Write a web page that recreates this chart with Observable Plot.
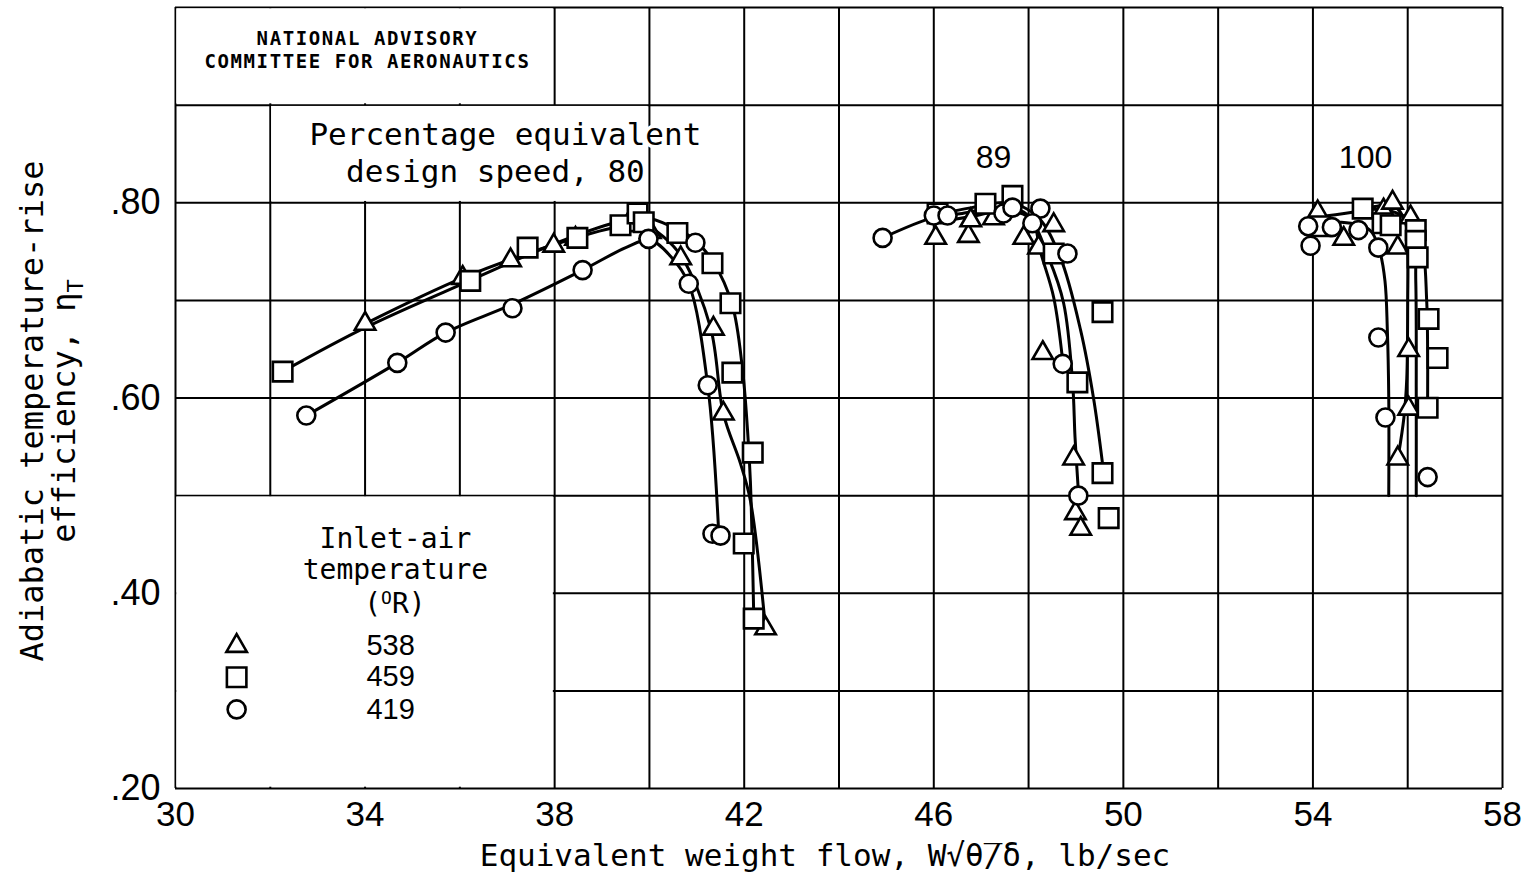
<!DOCTYPE html>
<html><head><meta charset="utf-8">
<script src="https://cdn.jsdelivr.net/npm/d3@7"></script>
<script src="https://cdn.jsdelivr.net/npm/@observablehq/plot@0.6"></script>
<style>
html,body{margin:0;padding:0;background:#fff;}
#chart{position:absolute;left:0;top:0;}
</style></head><body><div id="chart"></div>
<script>
// ---------- grid & ticks ----------
const xGrid = [30,32,34,36,38,40,42,44,46,48,50,52,54,56,58];
const yGrid = [0.2,0.3,0.4,0.5,0.6,0.7,0.8,0.9,1.0];
const xTicks = [30,34,38,42,46,50,54,58];
const yTicks = [0.2,0.4,0.6,0.8];
// areas of the grid left blank (boxes for lettering)
const blankBoxes = [
  {x1:30,x2:38,y1:0.9,y2:1.0},
  {x1:32,x2:40,y1:0.8,y2:0.9},
  {x1:30,x2:38,y1:0.2,y2:0.5}
];

// ---------- data points: [W, eta] ----------
// 80 percent speed
const p80_538 = [[34.0,0.676],[36.06,0.723],[37.07,0.741],[37.98,0.756],[38.44,0.763],[39.54,0.777],[40.02,0.770],[40.66,0.743],[41.35,0.671],[41.56,0.584],[42.45,0.364]];
const p80_459 = [[32.26,0.627],[36.22,0.720],[37.43,0.754],[38.48,0.764],[39.39,0.777],[39.75,0.789],[39.88,0.780],[40.59,0.769],[41.33,0.738],[41.71,0.697],[41.75,0.626],[42.18,0.544],[41.99,0.451],[42.2,0.374]];
const p80_419 = [[32.76,0.582],[34.68,0.636],[35.7,0.667],[37.11,0.692],[38.59,0.731],[39.98,0.763],[40.97,0.759],[40.83,0.717],[41.23,0.613],[41.33,0.461],[41.5,0.459]];
// 89 percent speed
const p89_538 = [[46.04,0.764],[46.73,0.766],[46.78,0.782],[47.26,0.784],[47.9,0.764],[48.53,0.777],[48.21,0.754],[48.3,0.646],[48.95,0.538],[48.99,0.482],[49.1,0.466]];
const p89_459 = [[46.08,0.789],[47.09,0.799],[47.66,0.807],[48.53,0.748],[49.56,0.688],[49.03,0.616],[49.56,0.523],[49.69,0.477]];
const p89_419 = [[44.92,0.764],[46.0,0.787],[46.29,0.787],[47.47,0.789],[47.66,0.795],[48.25,0.794],[48.08,0.779],[48.82,0.748],[48.72,0.635],[49.05,0.500]];
// 100 percent speed
const p100_538 = [[54.1,0.790],[54.65,0.763],[55.49,0.792],[55.68,0.800],[56.06,0.785],[55.79,0.754],[56.02,0.649],[56.02,0.589],[55.79,0.538]];
const p100_459 = [[54.15,0.776],[55.05,0.794],[55.47,0.779],[55.64,0.777],[56.17,0.772],[56.17,0.761],[56.21,0.744],[56.44,0.681],[56.63,0.641],[56.42,0.590]];
const p100_419 = [[53.9,0.776],[54.4,0.775],[53.95,0.756],[54.96,0.772],[55.38,0.754],[55.38,0.662],[55.53,0.580],[56.42,0.519]];

// ---------- faired curves ----------
const c80_538 = [[34.0,0.676],[36.06,0.723],[37.98,0.757],[39.3,0.775],[39.9,0.777],[40.3,0.765],[40.7,0.743],[41.29,0.672],[41.56,0.584],[41.92,0.533],[42.13,0.495],[42.45,0.364]];
const c80_459 = [[32.26,0.627],[34.0,0.672],[36.2,0.720],[38.0,0.758],[39.3,0.780],[39.9,0.785],[40.5,0.775],[40.93,0.763],[41.35,0.739],[41.75,0.695],[41.96,0.631],[42.07,0.567],[42.13,0.515],[42.2,0.379]];
const c80_419 = [[32.76,0.582],[34.68,0.636],[35.7,0.667],[37.11,0.696],[38.59,0.731],[39.5,0.754],[40.0,0.762],[40.45,0.745],[40.83,0.717],[41.23,0.613],[41.46,0.464]];
const c89_538 = [[46.0,0.780],[46.8,0.786],[47.5,0.792],[48.0,0.785],[48.42,0.744],[48.74,0.697],[48.93,0.615],[48.98,0.560],[49.05,0.505]];
const c89_459 = [[46.0,0.787],[46.8,0.795],[47.6,0.800],[48.2,0.785],[48.67,0.744],[49.1,0.669],[49.37,0.600],[49.56,0.533]];
const c89_419 = [[44.92,0.764],[46.0,0.785],[46.6,0.789],[47.3,0.795],[47.8,0.793],[48.1,0.780],[48.25,0.750],[48.53,0.703],[48.72,0.638]];
const c100_538 = [[54.0,0.785],[54.8,0.790],[55.4,0.797],[55.7,0.797],[55.95,0.780],[56.0,0.750],[56.0,0.700],[55.98,0.620],[55.92,0.580],[55.8,0.540]];
const c100_459 = [[55.0,0.793],[55.6,0.792],[56.1,0.780],[56.3,0.760],[56.4,0.700],[56.42,0.650],[56.42,0.600]];
const c100_459b = [[55.9,0.785],[56.12,0.772],[56.17,0.720],[56.18,0.600],[56.18,0.500]];
const c100_419 = [[53.9,0.776],[54.6,0.780],[55.2,0.772],[55.4,0.752],[55.52,0.720],[55.57,0.670],[55.6,0.600],[55.6,0.500]];

// ---------- labels ----------
const nacaLines = ["NATIONAL ADVISORY","COMMITTEE FOR AERONAUTICS"];
const titleLines = ["Percentage equivalent","design speed, 80"];
const speedLabels = [{x:47.26,y:0.846,t:"89"},{x:55.11,y:0.846,t:"100"}];
const legendTitle = ["Inlet-air","temperature"];
const legendTemps = ["538","459","419"];
const legendSymbols = ["triangle","square","circle"];
const xTitle = "Equivalent weight flow, W\u221A\u03B8\u0305/\u03B4, lb/sec";
const yTitle1 = "Adiabatic temperature-rise";
const yTitle2 = "efficiency, \u03B7";

const mono = "'DejaVu Sans Mono', monospace";
const sans = "'Liberation Sans', Arial, sans-serif";
const rBy = {triangle:7.6, square:11, circle:9};

const toObj = (arr) => arr.map(([x,y]) => ({x,y}));
const curves = [c80_538,c80_459,c80_419,c89_538,c89_459,c89_419,c100_538,c100_459,c100_459b,c100_419];
const pointSets = [
  [p80_538,"triangle"],[p80_459,"square"],[p80_419,"circle"],
  [p89_538,"triangle"],[p89_459,"square"],[p89_419,"circle"],
  [p100_538,"triangle"],[p100_459,"square"],[p100_419,"circle"]
];

const legendRows = legendTemps.map((t,i)=>({t, s:legendSymbols[i], y:[0.346,0.314,0.281][i]}));

const marks = [
  Plot.ruleX(xGrid,{stroke:"#000",strokeWidth:2}),
  Plot.ruleY(yGrid,{stroke:"#000",strokeWidth:2}),
  Plot.rect(blankBoxes,{x1:"x1",x2:"x2",y1:"y1",y2:"y2",fill:"#fff",inset:1.3}),
  Plot.axisX({ticks:xTicks, tickSize:0, tickPadding:13, tickFormat:d=>String(d), label:null, fontSize:35, fontFamily:sans}),
  Plot.axisY({ticks:yTicks, tickSize:0, tickPadding:15, tickFormat:d=>d.toFixed(2).replace(/^0/,""), label:null, fontSize:36, fontFamily:sans}),
  ...curves.map(c => Plot.line(toObj(c),{x:"x",y:"y",curve:"catmull-rom",stroke:"#000",strokeWidth:3})),
  ...pointSets.map(([arr,s]) => Plot.dot(toObj(arr),{x:"x",y:"y",symbol:()=>s,r:rBy[s],stroke:"#000",strokeWidth:2.6,fill:"#fff"})),
  // NACA box lettering
  Plot.text(nacaLines,{x:()=>34.05,y:(d,i)=>[0.968,0.944][i],text:d=>d,fontFamily:mono,fontSize:19,fontWeight:"bold",fill:"#000"}),
  // speed labels
  Plot.text(titleLines,{x:(d,i)=>[36.96,36.75][i],y:(d,i)=>[0.869,0.831][i],text:d=>d,fontFamily:mono,fontSize:31,fill:"#000",stroke:"#fff",strokeWidth:7}),
  Plot.text(speedLabels,{x:"x",y:"y",text:"t",fontFamily:sans,fontSize:32,fill:"#000"}),
  // legend
  Plot.text(legendTitle,{x:()=>34.64,y:(d,i)=>[0.456,0.424][i],text:d=>d,fontFamily:mono,fontSize:28,fill:"#000"}),
  ...legendRows.map(r => Plot.dot([r],{x:()=>31.29,y:"y",symbol:()=>r.s,r:rBy[r.s],stroke:"#000",strokeWidth:2.6,fill:"#fff"})),
  Plot.text(legendRows,{x:()=>34.54,y:"y",text:"t",fontFamily:sans,fontSize:29,fill:"#000"})
];

const chart = Plot.plot({
  width:1532, height:877,
  marginLeft:175, marginRight:30, marginTop:7, marginBottom:89,
  x:{domain:[30,58]}, y:{domain:[0.2,1.0]},
  style:{background:"#fff", color:"#000", overflow:"visible"},
  marks
});
document.getElementById("chart").appendChild(chart);

const svg = d3.select(chart);
// letter-spacing for the NACA box lettering
svg.selectAll("text").filter(function(){ return nacaLines.includes(this.textContent); })
  .attr("letter-spacing","1.6px");

const xs = d3.scaleLinear().domain([30,58]).range([175,1502]);
const ys = d3.scaleLinear().domain([0.2,1.0]).range([788,7]);
// legend unit "(OR)" with raised O
const u = svg.append("text").attr("x",xs(34.64)).attr("y",ys(0.39)+10).attr("text-anchor","middle")
  .attr("font-family",mono).attr("font-size",28).attr("fill","#000");
u.append("tspan").text("(");
u.append("tspan").text("O").attr("font-size",18).attr("dy",-9);
u.append("tspan").text("R)").attr("dy",9);
// x title
svg.append("text").attr("x",825).attr("y",866).attr("text-anchor","middle")
  .attr("font-family",mono).attr("font-size",31).attr("fill","#000").text(xTitle);
// y title
const yg = svg.append("g").attr("transform","translate(0,411) rotate(-90)");
yg.append("text").attr("x",0).attr("y",43).attr("text-anchor","middle")
  .attr("font-family",mono).attr("font-size",32).attr("fill","#000").text(yTitle1);
const y2 = yg.append("text").attr("x",0).attr("y",75).attr("text-anchor","middle")
  .attr("font-family",mono).attr("font-size",32).attr("fill","#000");
y2.append("tspan").text(yTitle2);
y2.append("tspan").text("T").attr("font-size",22).attr("dy",8);
</script></body></html>
